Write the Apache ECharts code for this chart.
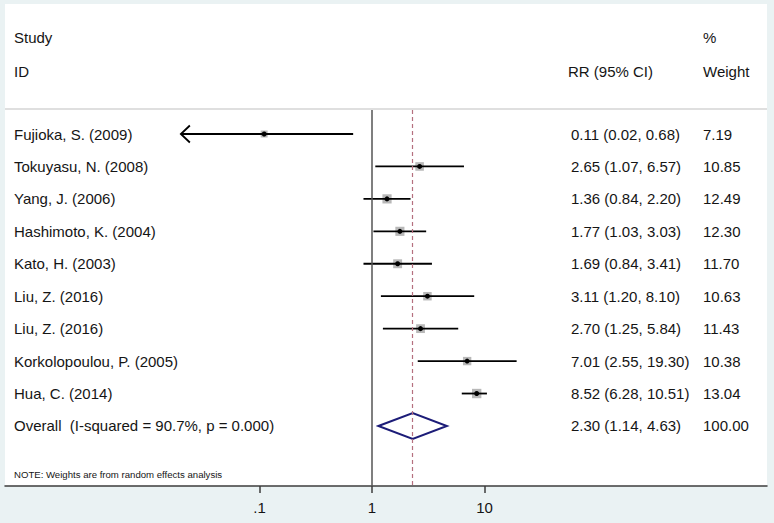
<!DOCTYPE html>
<html>
<head>
<meta charset="utf-8">
<script src="https://cdn.jsdelivr.net/npm/echarts@6/dist/echarts.min.js"></script>
<style>html,body{margin:0;padding:0;background:#eaf2f3;}#c{width:774px;height:523px;}</style>
</head>
<body>
<div id="c"></div>
<script>
// ---- data ----
var studies = ['Fujioka, S. (2009)', 'Tokuyasu, N. (2008)', 'Yang, J. (2006)', 'Hashimoto, K. (2004)',
  'Kato, H. (2003)', 'Liu, Z. (2016)', 'Liu, Z. (2016)', 'Korkolopoulou, P. (2005)', 'Hua, C. (2014)'];
var rr     = [0.11, 2.65, 1.36, 1.77, 1.69, 3.11, 2.70, 7.01, 8.52];
var lower  = [0.02, 1.07, 0.84, 1.03, 0.84, 1.20, 1.25, 2.55, 6.28];
var upper  = [0.68, 6.57, 2.20, 3.03, 3.41, 8.10, 5.84, 19.30, 10.51];
var weights = [7.19, 10.85, 12.49, 12.30, 11.70, 10.63, 11.43, 10.38, 13.04];
var clippedLow = [true, false, false, false, false, false, false, false, false];
var overallLabel = 'Overall  (I-squared = 90.7%, p = 0.000)';
var overallRR = 2.30, overallLower = 1.14, overallUpper = 4.63, overallWeight = 100.00;
var tickValues = [0.1, 1, 10];
var tickLabels = ['.1', '1', '10'];
var noteText = 'NOTE: Weights are from random effects analysis';

// ---- layout ----
var W = 774, H = 523;
var PANEL_L = 5, PANEL_R = 767, PANEL_T = 4, AXIS_Y = 486, PLOT_T = 110;
var X_ONE = 372, DECADE = 112.5;
var ROW1_Y = 134, ROW_H = 32.44;
var xMin = Math.pow(10, (PANEL_L - X_ONE) / DECADE);
var xMax = Math.pow(10, (PANEL_R - X_ONE) / DECADE);
var yMin = 1 - (ROW1_Y - PLOT_T) / ROW_H;
var yMax = 1 + (AXIS_Y - ROW1_Y) / ROW_H;
var FONT = "'Liberation Sans', Arial, sans-serif";
var TXT = '#151515';
var COL_STUDY = 14, COL_RR = 571, COL_W = 703;

function fmt2(v) { return v.toFixed(2); }
function ciText(e, l, u) { return fmt2(e) + ' (' + fmt2(l) + ', ' + fmt2(u) + ')'; }

var studyData = studies.map(function (s, i) {
  return [rr[i], lower[i], upper[i], weights[i], i + 1, clippedLow[i] ? 1 : 0];
});
var textRows = studies.map(function (s, i) {
  return { value: [1, i + 1], name: s, rrText: ciText(rr[i], lower[i], upper[i]), wText: fmt2(weights[i]) };
});
textRows.push({ value: [1, studies.length + 1], name: overallLabel,
  rrText: ciText(overallRR, overallLower, overallUpper), wText: fmt2(overallWeight) });

var chart = echarts.init(document.getElementById('c'), null, { renderer: 'svg', width: W, height: H });

var option = {
  backgroundColor: '#eaf2f3',
  animation: false,
  grid: { left: PANEL_L, right: W - PANEL_R, top: PLOT_T, bottom: H - AXIS_Y, containLabel: false },
  xAxis: {
    type: 'log', logBase: 10, min: xMin, max: xMax,
    axisLine: { show: true, lineStyle: { color: '#3c3c3c', width: 1.5 } },
    axisTick: { show: true, length: 7, customValues: tickValues, lineStyle: { color: '#3c3c3c', width: 1.5 } },
    axisLabel: {
      show: true, customValues: tickValues, margin: 14, color: TXT, fontSize: 15, fontFamily: FONT,
      formatter: function (v) {
        for (var i = 0; i < tickValues.length; i++) {
          if (Math.abs(Math.log10(v) - Math.log10(tickValues[i])) < 1e-6) return tickLabels[i];
        }
        return '';
      }
    },
    splitLine: { show: false }, minorTick: { show: false }
  },
  yAxis: { type: 'value', inverse: true, min: yMin, max: yMax, show: false, splitLine: { show: false } },
  graphic: [
    { type: 'rect', z: -10, silent: true, shape: { x: PANEL_L, y: PANEL_T, width: PANEL_R - PANEL_L, height: AXIS_Y - PANEL_T },
      style: { fill: '#ffffff' } },
    { type: 'line', z: -5, silent: true, shape: { x1: PANEL_L, y1: 109, x2: PANEL_R, y2: 109 },
      style: { stroke: '#d4d4d4', lineWidth: 1.5 } },
    { type: 'text', x: COL_STUDY, y: 37, style: { text: 'Study', font: '15px ' + FONT, fill: TXT, verticalAlign: 'middle' } },
    { type: 'text', x: COL_STUDY, y: 71, style: { text: 'ID', font: '15px ' + FONT, fill: TXT, verticalAlign: 'middle' } },
    { type: 'text', x: 568, y: 71, style: { text: 'RR (95% CI)', font: '15px ' + FONT, fill: TXT, verticalAlign: 'middle' } },
    { type: 'text', x: COL_W, y: 37, style: { text: '%', font: '15px ' + FONT, fill: TXT, verticalAlign: 'middle' } },
    { type: 'text', x: COL_W, y: 71, style: { text: 'Weight', font: '15px ' + FONT, fill: TXT, verticalAlign: 'middle' } },
    { type: 'text', x: COL_STUDY, y: 474, style: { text: noteText, font: '9.6px ' + FONT, fill: TXT, verticalAlign: 'middle' } }
  ],
  series: [
    {
      type: 'custom', name: 'studies', clip: false, z: 3,
      data: studyData,
      renderItem: function (params, api) {
        var est = api.value(0), lo = api.value(1), hi = api.value(2), w = api.value(3), row = api.value(4), clip = api.value(5);
        var pLo = api.coord([lo, row]), pHi = api.coord([hi, row]), pE = api.coord([est, row]);
        var side = 2.6 * Math.sqrt(w);
        var children = [
          { type: 'rect', shape: { x: pE[0] - side / 2, y: pE[1] - side / 2, width: side, height: side },
            style: { fill: '#b8b8b8' } },
          { type: 'line', shape: { x1: pLo[0], y1: pLo[1], x2: pHi[0], y2: pHi[1] },
            style: { stroke: '#000', lineWidth: 1.8 } },
          { type: 'circle', shape: { cx: pE[0], cy: pE[1], r: 2.5 }, style: { fill: '#000' } }
        ];
        if (clip) {
          children.push({ type: 'polyline', shape: { points: [[pLo[0] + 9, pLo[1] - 8.5], [pLo[0], pLo[1]], [pLo[0] + 9, pLo[1] + 8.5]] },
            style: { stroke: '#000', lineWidth: 1.8, fill: null } });
        }
        return { type: 'group', children: children };
      }
    },
    {
      type: 'custom', name: 'overall', clip: false, z: 4,
      data: [[overallRR, overallLower, overallUpper, studies.length + 1]],
      renderItem: function (params, api) {
        var est = api.value(0), lo = api.value(1), hi = api.value(2), row = api.value(3);
        var pL = api.coord([lo, row]), pR = api.coord([hi, row]), pE = api.coord([est, row]);
        var hh = 13;
        return { type: 'polygon', shape: { points: [[pL[0], pL[1]], [pE[0], pE[1] - hh], [pR[0], pR[1]], [pE[0], pE[1] + hh]] },
          style: { stroke: '#1c1c78', lineWidth: 2, fill: 'rgba(255,255,255,0)' } };
      },
      markLine: {
        silent: true, symbol: ['none', 'none'], label: { show: false },
        data: [
          { xAxis: 1, lineStyle: { color: '#555555', width: 1.5, type: 'solid' } },
          { xAxis: overallRR, lineStyle: { color: '#b5707f', width: 1.2, type: [4, 3] } }
        ]
      }
    },
    {
      type: 'custom', name: 'text', clip: false, z: 5,
      data: textRows,
      renderItem: function (params, api) {
        var row = api.value(1);
        var y = api.coord([1, row])[1];
        var d = textRows[params.dataIndex];
        var f = '15px ' + FONT;
        return { type: 'group', children: [
          { type: 'text', x: COL_STUDY, y: y, style: { text: d.name, font: f, fill: TXT, verticalAlign: 'middle' } },
          { type: 'text', x: COL_RR, y: y, style: { text: d.rrText, font: f, fill: TXT, verticalAlign: 'middle' } },
          { type: 'text', x: COL_W, y: y, style: { text: d.wText, font: f, fill: TXT, verticalAlign: 'middle' } }
        ] };
      }
    }
  ]
};
chart.setOption(option);
</script>
</body>
</html>
